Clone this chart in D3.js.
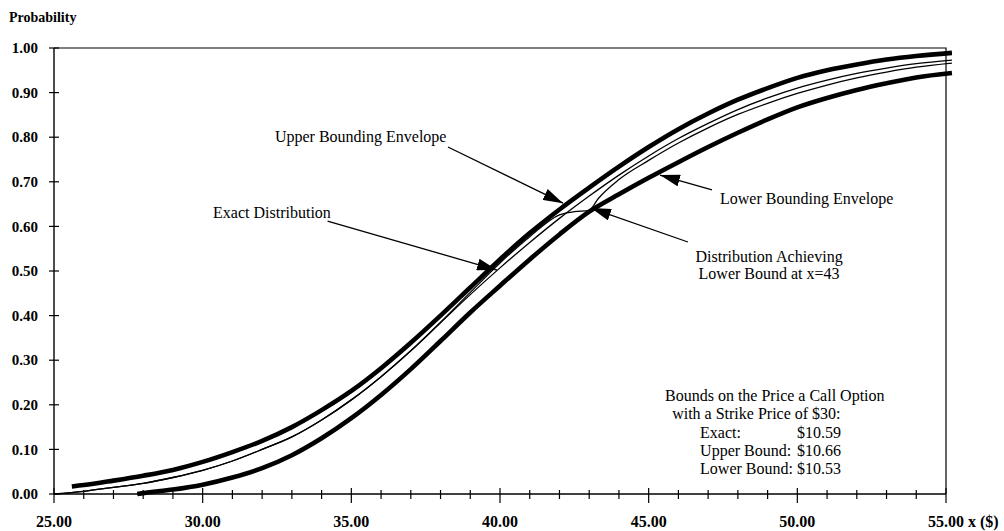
<!DOCTYPE html>
<html>
<head>
<meta charset="utf-8">
<script src="https://cdn.jsdelivr.net/npm/d3@7"></script>
<style>
  body { margin: 0; background: #fff; }
  svg { display: block; }
  text { font-family: "Liberation Serif", "Times New Roman", serif; fill: #000; }
  .tick-label { font-weight: bold; font-size: 15px; }
  .note { font-size: 16px; }
</style>
</head>
<body>
<script>
// values
const upperX = [25.6, 26, 27, 28, 29, 30, 31, 32, 33, 34, 35, 36, 37, 38, 39, 40, 41, 42, 43, 44, 45, 46, 47, 48, 49, 50, 51, 52, 53, 54, 55.2]
const upperY = [0.017, 0.020, 0.030, 0.041, 0.054, 0.072, 0.094, 0.119, 0.150, 0.188, 0.231, 0.282, 0.339, 0.400, 0.463, 0.526, 0.585, 0.638, 0.687, 0.734, 0.778, 0.818, 0.853, 0.884, 0.910, 0.933, 0.950, 0.963, 0.974, 0.982, 0.989]

const lowerX = [27.8, 28, 29, 30, 31, 32, 33, 34, 35, 36, 37, 38, 39, 40, 41, 42, 43, 44, 45, 46, 47, 48, 49, 50, 51, 52, 53, 54, 55.2]
const lowerY = [0.000, 0.002, 0.010, 0.021, 0.037, 0.058, 0.087, 0.125, 0.170, 0.222, 0.280, 0.343, 0.407, 0.467, 0.526, 0.582, 0.633, 0.672, 0.709, 0.744, 0.778, 0.810, 0.840, 0.867, 0.888, 0.906, 0.921, 0.934, 0.944]

const exactX = [25, 26, 27, 28, 29, 30, 31, 32, 33, 34, 35, 36, 37, 38, 39, 40, 41, 42, 43, 44, 45, 46, 47, 48, 49, 50, 51, 52, 53, 54, 55.2]
const exactY = [0.000, 0.006, 0.015, 0.024, 0.037, 0.053, 0.074, 0.100, 0.128, 0.166, 0.211, 0.263, 0.321, 0.384, 0.447, 0.507, 0.564, 0.618, 0.668, 0.715, 0.758, 0.797, 0.831, 0.862, 0.888, 0.910, 0.928, 0.943, 0.955, 0.965, 0.973]

const achX = [25, 26, 27, 28, 29, 30, 31, 32, 33, 34, 35, 36, 37, 38, 39, 40, 41, 42, 42.5, 43, 43.3, 44, 45, 46, 47, 48, 49, 50, 51, 52, 53, 54, 55.2]
const achY = [0.000, 0.006, 0.015, 0.024, 0.037, 0.053, 0.074, 0.100, 0.128, 0.166, 0.211, 0.263, 0.321, 0.385, 0.452, 0.518, 0.577, 0.626, 0.633, 0.636, 0.662, 0.705, 0.748, 0.787, 0.821, 0.851, 0.876, 0.898, 0.917, 0.933, 0.946, 0.957, 0.966]

const xTicks = [25, 30, 35, 40, 45, 50, 55]
const xMinor = d3.range(25, 56, 1)
const yTicks = [0, 0.1, 0.2, 0.3, 0.4, 0.5, 0.6, 0.7, 0.8, 0.9, 1.0]

const priceLines = [
    ['Exact:', '$10.59'],
    ['Upper Bound:', '$10.66'],
    ['Lower Bound:', '$10.53']
]

var width = 1004,
    height = 531
var margin = {
    top: 48, right: 58, bottom: 37, left: 54
}
var chartWidth = width - margin.left - margin.right,
    chartHeight = height - margin.top - margin.bottom

var svg = d3.select('body').append('svg')
    .attr('width', width)
    .attr('height', height)

var x = d3.scaleLinear().domain([25, 55]).range([margin.left, margin.left + chartWidth])
var y = d3.scaleLinear().domain([0, 1]).range([margin.top + chartHeight, margin.top])

// frame: top and right edge
svg.append('path')
    .attr('d', `M${x(25)},${y(1)}H${x(55)}V${y(0)}`)
    .attr('fill', 'none')
    .attr('stroke', '#000')
    .attr('stroke-width', 1.2)

// left axis, crossing ticks
var yAxis = svg.append('g')
yAxis.append('line')
    .attr('x1', x(25)).attr('x2', x(25))
    .attr('y1', y(1)).attr('y2', y(0))
    .attr('stroke', '#000').attr('stroke-width', 1.4)
yAxis.selectAll('.ytick')
    .data(yTicks).enter()
    .append('line')
    .attr('x1', x(25) - 5).attr('x2', x(25) + 5)
    .attr('y1', y).attr('y2', y)
    .attr('stroke', '#000').attr('stroke-width', 1.2)
yAxis.selectAll('.ylabel')
    .data(yTicks).enter()
    .append('text')
    .attr('class', 'tick-label')
    .attr('x', x(25) - 16)
    .attr('y', y)
    .attr('dy', '0.35em')
    .attr('text-anchor', 'end')
    .text(d => d.toFixed(2))

svg.append('text')
    .attr('class', 'tick-label')
    .style('font-size', '14px')
    .attr('x', 9)
    .attr('y', 22)
    .text('Probability')

// bottom axis
var xAxis = svg.append('g')
xAxis.append('line')
    .attr('x1', x(25)).attr('x2', x(55))
    .attr('y1', y(0)).attr('y2', y(0))
    .attr('stroke', '#000').attr('stroke-width', 1.4)
xAxis.selectAll('.xminor')
    .data(xMinor).enter()
    .append('line')
    .attr('x1', x).attr('x2', x)
    .attr('y1', d => y(0) - (d % 5 === 0 ? 6 : 4))
    .attr('y2', d => y(0) + (d % 5 === 0 ? 9 : 5))
    .attr('stroke', '#000').attr('stroke-width', 1.2)
xAxis.selectAll('.xlabel')
    .data(xTicks).enter()
    .append('text')
    .attr('class', 'tick-label')
    .style('font-size', '16px')
    .attr('x', x)
    .attr('y', y(0) + 33)
    .attr('text-anchor', 'middle')
    .text(d => d.toFixed(2))
svg.append('text')
    .attr('class', 'tick-label')
    .style('font-size', '16px')
    .attr('x', x(55) + 22)
    .attr('y', y(0) + 33)
    .text('x ($)')

// curves
var line = d3.line()
    .x(d => x(d[0]))
    .y(d => y(d[1]))
    .curve(d3.curveMonotoneX)

var series = [
    { xs: upperX, ys: upperY, w: 4.6 },
    { xs: lowerX, ys: lowerY, w: 4.6 },
    { xs: exactX, ys: exactY, w: 1.3 },
    { xs: achX, ys: achY, w: 1.3 }
]
svg.selectAll('.curve')
    .data(series).enter()
    .append('path')
    .attr('class', 'curve')
    .attr('d', s => line(s.xs.map((v, i) => [v, s.ys[i]])))
    .attr('fill', 'none')
    .attr('stroke', '#000')
    .attr('stroke-width', s => s.w)

// arrow head
svg.append('defs').append('marker')
    .attr('id', 'head')
    .attr('markerUnits', 'userSpaceOnUse')
    .attr('viewBox', '0 0 20 12')
    .attr('refX', 20).attr('refY', 6)
    .attr('markerWidth', 20).attr('markerHeight', 12)
    .attr('orient', 'auto')
    .append('path')
    .attr('d', 'M0,0L20,6L0,12Z')
    .attr('fill', '#000')

// annotations, in data units
var notes = [
    { lines: ['Upper Bounding Envelope'], tx: 32.43, ty: 0.789, anchor: 'start', from: [38.25, 0.778], to: [42.12, 0.652] },
    { lines: ['Exact Distribution'], tx: 30.35, ty: 0.619, anchor: 'start', from: [34.2, 0.612], to: [39.9, 0.502] },
    { lines: ['Lower Bounding Envelope'], tx: 47.4, ty: 0.650, anchor: 'start', from: [47.13, 0.682], to: [45.38, 0.715] },
    { lines: ['Distribution Achieving', 'Lower Bound at x=43'], tx: 49.05, ty: 0.520, anchor: 'middle', from: [46.32, 0.565], to: [43.06, 0.641] }
]
var note = svg.selectAll('.annot')
    .data(notes).enter()
    .append('g')
    .attr('class', 'annot')
note.append('line')
    .attr('x1', d => x(d.from[0])).attr('y1', d => y(d.from[1]))
    .attr('x2', d => x(d.to[0])).attr('y2', d => y(d.to[1]))
    .attr('stroke', '#000')
    .attr('stroke-width', 1.3)
    .attr('marker-end', 'url(#head)')
note.append('text')
    .attr('class', 'note')
    .attr('text-anchor', d => d.anchor)
    .attr('x', d => x(d.tx))
    .attr('y', d => y(d.ty))
    .selectAll('tspan')
    .data(d => d.lines.map(t => ({ t, x: d.tx }))).enter()
    .append('tspan')
    .attr('x', d => x(d.x))
    .attr('dy', (d, i) => i ? 17 : 0)
    .text(d => d.t)

// price box
var box = svg.append('g').attr('class', 'note')
box.append('text').attr('x', x(45.55)).attr('y', y(0.2085)).text('Bounds on the Price a Call Option')
box.append('text').attr('x', x(45.79)).attr('y', y(0.168)).text('with a Strike Price of $30:')
var rows = box.selectAll('.row')
    .data(priceLines).enter()
    .append('g')
    .attr('class', 'row')
rows.append('text')
    .attr('x', x(46.73))
    .attr('y', (d, i) => y(0.1256) + i * 18)
    .text(d => d[0])
rows.append('text')
    .attr('x', x(49.99))
    .attr('y', (d, i) => y(0.1256) + i * 18)
    .text(d => d[1])
</script>
</body>
</html>
